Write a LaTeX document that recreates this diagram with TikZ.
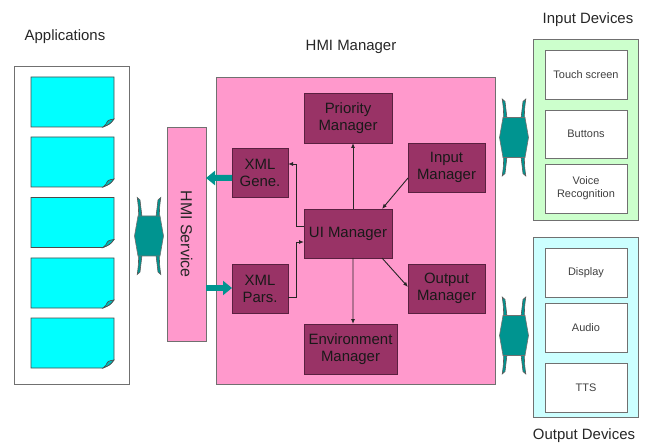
\documentclass[tikz,border=0pt]{standalone}
\usepackage{fontspec}
\setmainfont{Liberation Sans}
\usetikzlibrary{arrows.meta}

\definecolor{pinkbg}{HTML}{FF99CC}
\definecolor{mgrcol}{HTML}{993366}
\definecolor{mgrline}{HTML}{5A2040}
\definecolor{doccyan}{HTML}{00FFFF}
\definecolor{docfold}{HTML}{00B8B8}
\definecolor{ingreen}{HTML}{CCFFCC}
\definecolor{outcyan}{HTML}{CCFFFF}
\definecolor{tealc}{HTML}{009490}
\definecolor{linegray}{HTML}{707070}

\tikzset{
  box/.style={inner sep=0pt, outer sep=0pt, draw=linegray, line width=0.8bp},
  mgr/.style={box, fill=mgrcol, draw=mgrline, align=center,
    font=\fontsize{15}{17}\selectfont, text=black!90},
  dev/.style={box, fill=white, align=center,
    font=\fontsize{11}{13}\selectfont, text=black!75},
  lbl/.style={font=\fontsize{15}{17}\selectfont, text=black!85},
  docslot/.style={inner sep=0pt, outer sep=0pt, minimum width=83bp, minimum height=50bp},
  arr/.style={-{Latex[length=5bp,width=4bp]}, line width=0.9bp, draw=black!85},
  tealarr/.style={draw=tealc, line width=6bp, -{Triangle[length=9bp,width=14bp]}},
  link/.pic={
    % thin side strips above and below the body
    \foreach \sx in {-1,1}{
      \foreach \sy in {-1,1}{
        \filldraw[fill=tealc, draw=black!65, line width=0.6bp]
          (\sx*10.3,\sy*19) .. controls (\sx*10.6,\sy*30) .. (\sx*11.8,\sy*38.5)
          -- (\sx*9,\sy*36) .. controls (\sx*7.6,\sy*28) .. (\sx*7,\sy*19) -- cycle;
      }
    }
    % six-sided body
    \filldraw[fill=tealc, draw=linegray, line width=0.6bp]
      (-11,-20) -- (11,-20) -- (14.5,0) -- (11,20) -- (-11,20) -- (-14.5,0) -- cycle;
  }
}

% document sheet with a curled bottom-right corner, drawn inside a named slot
\newcommand\docsheet[1]{%
  \filldraw[fill=doccyan, draw=black!70, line width=0.8bp]
    (#1.north west) -- (#1.north east) -- ([yshift=8bp]#1.south east)
    .. controls ([xshift=-4bp,yshift=3bp]#1.south east) .. ([xshift=-11bp]#1.south east)
    -- (#1.south west) -- cycle;
  \filldraw[fill=docfold, draw=black!70, line width=0.6bp]
    ([yshift=8bp]#1.south east)
    .. controls ([xshift=-6bp,yshift=7bp]#1.south east) .. ([xshift=-8bp,yshift=3bp]#1.south east)
    .. controls ([xshift=-9bp,yshift=1bp]#1.south east) .. ([xshift=-11bp]#1.south east)
    .. controls ([xshift=-4bp,yshift=3bp]#1.south east) .. cycle;
}

\begin{document}
\begin{tikzpicture}[x=1bp, y=-1bp]
\useasboundingbox[fill=white] (0,0) rectangle (646,444);

% ---------- Applications ----------
\node[lbl] (applbl) at (65,37) {Applications};
\node[box, fill=white, minimum width=115bp, minimum height=318bp] (apps) at (71.5,225) {};
\node[docslot] (app1) at (72.5,102) {};
\node[docslot] (app2) at (72.5,162) {};
\node[docslot] (app3) at (72.5,222.5) {};
\node[docslot] (app4) at (72.5,283) {};
\node[docslot] (app5) at (72.5,343) {};
\foreach \d in {app1,app2,app3,app4,app5}{\docsheet{\d}}

% ---------- HMI Service ----------
\node[box, fill=pinkbg, minimum width=39bp, minimum height=214bp] (hmisvc) at (186.5,234) {};
\node[lbl, rotate=-90, font=\fontsize{16}{18}\selectfont] (hmisvclbl) at (hmisvc.center) {HMI Service};

% ---------- HMI Manager ----------
\node[lbl] (mgrlbl) at (351,47) {HMI Manager};
\node[box, fill=pinkbg, minimum width=279bp, minimum height=307bp] (hmimgr) at (355.5,230.5) {};

\node[mgr, minimum width=88bp, minimum height=50bp] (pri)  at (348,118)   {Priority\\Manager};
\node[mgr, minimum width=77bp, minimum height=49bp] (inp)  at (446.5,167.5) {Input\\Manager};
\node[mgr, minimum width=56bp, minimum height=49bp] (xgen) at (260,172.5) {XML\\Gene.};
\node[mgr, minimum width=88bp, minimum height=49bp] (ui)   at (348,233.5) {UI Manager};
\node[mgr, minimum width=56bp, minimum height=49bp] (xpar) at (260,288.5) {XML\\Pars.};
\node[mgr, minimum width=77bp, minimum height=49bp] (outm) at (446.5,288.5) {Output\\Manager};
\node[mgr, minimum width=93bp, minimum height=50bp] (env)  at (350.5,349) {Environment\\Manager};

% internal message flow
\draw[arr] ([xshift=5bp]ui.north) -- ([xshift=5bp]pri.south);
\draw[arr] ([yshift=-10.5bp]inp.west) -- ([xshift=34bp]ui.north);
\draw[arr] ([xshift=5bp]ui.south) -- ([xshift=2.5bp]env.north);
\draw[arr] ([xshift=34bp]ui.south) -- ([yshift=1.5bp]outm.west);
\draw[arr] ([yshift=7.5bp]ui.west) -- ++(-8bp,0) |- ([yshift=8.5bp]xgen.east);
\draw[arr] ([yshift=-8.5bp]xpar.east) -- ++(8bp,0) |- ([yshift=-8.5bp]ui.west);

% XML exchange with the HMI service
\draw[tealarr] ([yshift=-5.5bp]xgen.west) -- (hmisvc.east |- {0,178});
\draw[tealarr] (hmisvc.east |- {0,288}) -- (xpar.west |- {0,288});

% ---------- Devices ----------
\node[lbl] (inlbl) at (588,20) {Input Devices};
\node[box, fill=ingreen, minimum width=105bp, minimum height=181bp] (indev) at (585.5,129.5) {};
\node[dev, minimum width=82bp, minimum height=49bp] (touch) at (586,74.5)  {Touch screen};
\node[dev, minimum width=82bp, minimum height=48bp] (btn)   at (586,134)   {Buttons};
\node[dev, minimum width=82bp, minimum height=49bp] (voice) at (586,188.5) {Voice\\Recognition};

\node[box, fill=outcyan, minimum width=105bp, minimum height=180bp] (outdev) at (585.5,327) {};
\node[dev, minimum width=82bp, minimum height=49bp] (disp)  at (586,272.5) {Display};
\node[dev, minimum width=82bp, minimum height=49bp] (audio) at (586,327.5) {Audio};
\node[dev, minimum width=82bp, minimum height=49bp] (tts)   at (586,387.5) {TTS};
\node[lbl] (outlbl) at (584,436) {Output Devices};

% ---------- bidirectional links ----------
\pic at (149,236) {link};
\pic at (514,137.5) {link};
\pic at (514,335.5) {link};
\end{tikzpicture}
\end{document}
